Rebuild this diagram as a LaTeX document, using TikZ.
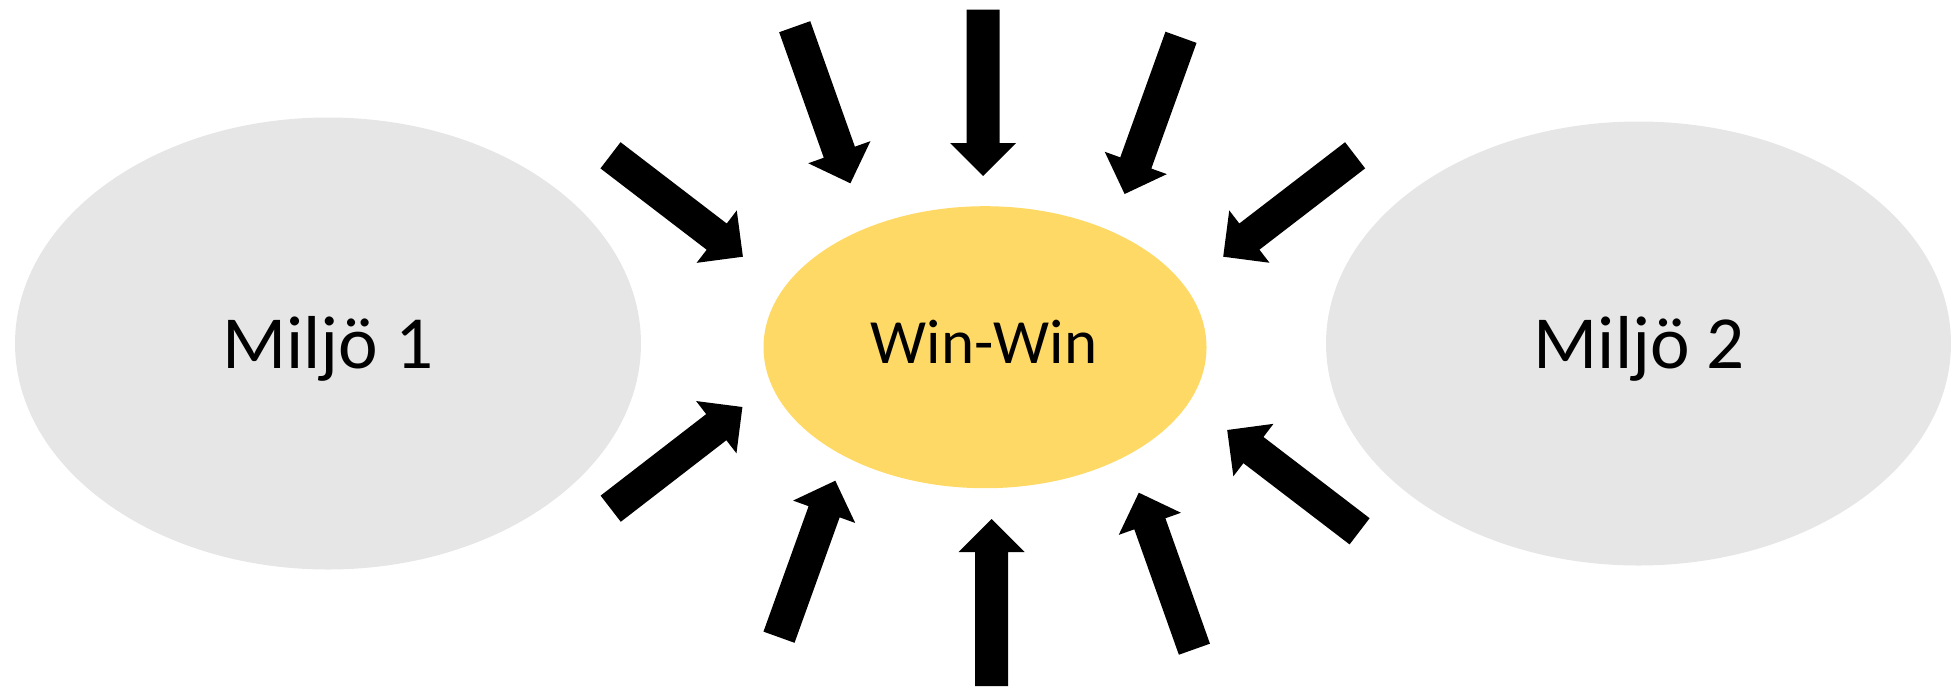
\documentclass[tikz,border=0pt]{standalone}
\usepackage{fontspec}
\setmainfont{Carlito}
\usetikzlibrary{shapes.geometric,calc}
\definecolor{envgray}{RGB}{230,230,230}
\definecolor{wingold}{RGB}{255,217,102}
\tikzset{
  envblob/.style={ellipse, fill=envgray, inner sep=0pt},
  winblob/.style={ellipse, fill=wingold, inner sep=0pt},
  bigtext/.style={anchor=base, inner sep=0pt, font=\fontsize{75}{80}\selectfont},
  midtext/.style={anchor=base, inner sep=0pt, font=\fontsize{63}{68}\selectfont},
}
\newcommand{\blockarrow}[2]{%
  \coordinate (ba-base) at ($(#2)!33pt!(#1)$);
  \fill[black] ($(#1)!16.5pt!90:(#2)$) -- ($(ba-base)!16.5pt!90:(#2)$) -- ($(ba-base)!33pt!90:(#2)$)
    -- (#2) -- ($(ba-base)!33pt!-90:(#2)$) -- ($(ba-base)!16.5pt!-90:(#2)$) -- ($(#1)!16.5pt!-90:(#2)$) -- cycle;
}
\begin{document}
\begin{tikzpicture}[x=1pt,y=-1pt]
\useasboundingbox (0,0) rectangle (1951,686);
\node[envblob, minimum width=626, minimum height=452] (env1) at (328,343.5) {};
\node[envblob, minimum width=625, minimum height=444] (env2) at (1638.5,343.5) {};
\node[winblob, minimum width=443, minimum height=282] (win) at (985,347.2) {};
\node[bigtext] (t1) at (328,368.3) {Miljö 1};
\node[bigtext] (t2) at (1639.3,368.3) {Miljö 2};
\node[midtext] (tw) at (984,363.3) {Win-Win};
% arrow tails and tips
\coordinate (aT) at (610.5,155.3);  \coordinate (aH) at (742.9,256.7);
\coordinate (bT) at (794.7,26.7);   \coordinate (bH) at (850.4,183.3);
\coordinate (vT) at (983,9.5);      \coordinate (vH) at (983,176);
\coordinate (cT) at (1181,37.3);    \coordinate (cH) at (1124.6,194);
\coordinate (dT) at (1355.1,155.3); \coordinate (dH) at (1223.2,256.7);
\coordinate (eT) at (610.7,508.7);  \coordinate (eH) at (742.4,407);
\coordinate (fT) at (779,637.2);    \coordinate (fH) at (835.3,480.7);
\coordinate (wT) at (991.5,686);    \coordinate (wH) at (991.5,519);
\coordinate (gT) at (1194.4,649.2); \coordinate (gH) at (1138.8,492.7);
\coordinate (hT) at (1359.6,531.3); \coordinate (hH) at (1227.2,430);
\blockarrow{aT}{aH}
\blockarrow{bT}{bH}
\blockarrow{vT}{vH}
\blockarrow{cT}{cH}
\blockarrow{dT}{dH}
\blockarrow{eT}{eH}
\blockarrow{fT}{fH}
\blockarrow{wT}{wH}
\blockarrow{gT}{gH}
\blockarrow{hT}{hH}
\end{tikzpicture}
\end{document}
